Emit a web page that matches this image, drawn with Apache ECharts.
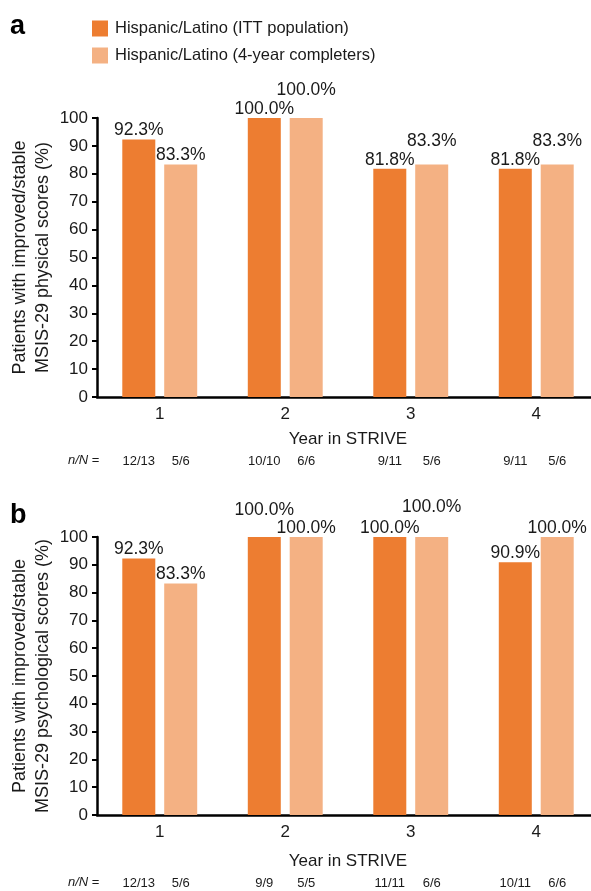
<!DOCTYPE html>
<html>
<head>
<meta charset="utf-8">
<script src="https://cdn.jsdelivr.net/npm/echarts@6/dist/echarts.min.js"></script>
<style>
html,body{margin:0;padding:0;background:#fff;}
#chart{width:591px;height:891px;}
</style>
</head>
<body>
<div id="chart"></div>
<script>
// ---- data ----
const years = ['1', '2', '3', '4'];
const seriesNames = ['Hispanic/Latino (ITT population)', 'Hispanic/Latino (4-year completers)'];
const physItt = [92.3, 100.0, 81.8, 81.8];
const physComp = [83.3, 100.0, 83.3, 83.3];
const psychItt = [92.3, 100.0, 100.0, 90.9];
const psychComp = [83.3, 100.0, 100.0, 100.0];
const physIttN = ['12/13', '10/10', '9/11', '9/11'];
const physCompN = ['5/6', '6/6', '5/6', '5/6'];
const psychIttN = ['12/13', '9/9', '11/11', '10/11'];
const psychCompN = ['5/6', '5/5', '6/6', '6/6'];
const yTicks = { min: 0, max: 100, interval: 10 };

// ---- style / layout ----
const FONT = 'Liberation Sans, Arial, sans-serif';
const C_ITT = '#ED7D31';
const C_COMP = '#F4B183';
const TXT = '#1a1a1a';
const BAR_W = 33, BAR_GAP = '27%';
// vertical lifts of value labels to avoid overlap (layout only)
const liftPhysItt = [0, 0, 0, 0];
const liftPhysComp = [0, -19, -14, -14];
const liftPsychItt = [0, -18, 0, 0];
const liftPsychComp = [0, 0, -21, 0];

function barData(vals, lifts) {
  return vals.map((v, i) => ({ value: v, label: { offset: [0, lifts[i]] } }));
}

function barSeries(name, idx, vals, lifts, color) {
  return {
    type: 'bar', name: name, xAxisIndex: idx, yAxisIndex: idx,
    data: barData(vals, lifts),
    barWidth: BAR_W, barGap: BAR_GAP,
    itemStyle: { color: color },
    label: {
      show: true, position: 'top', distance: 0,
      formatter: p => p.value.toFixed(1) + '%',
      fontFamily: FONT, fontSize: 17.5, color: TXT
    },
    emphasis: { disabled: true }
  };
}

function nSeries(idx, ittN, compN, dy) {
  return {
    type: 'custom', xAxisIndex: idx, yAxisIndex: idx, silent: true,
    data: years.map((y, i) => [i, 0]),
    renderItem: function (params, api) {
      const i = api.value(0);
      const c = api.coord([i, 0]);
      const lay = api.barLayout({ count: 2, barWidth: BAR_W, barGap: BAR_GAP });
      const labels = [ittN[i], compN[i]];
      return {
        type: 'group',
        children: labels.map((t, k) => ({
          type: 'text',
          style: {
            text: t, x: c[0] + lay[k].offsetCenter, y: c[1] + dy,
            textAlign: 'center', textVerticalAlign: 'middle',
            fontFamily: FONT, fontSize: 13, fill: TXT
          }
        }))
      };
    }
  };
}

function xAxis(idx, nameGap) {
  return {
    type: 'category', gridIndex: idx, data: years,
    name: 'Year in STRIVE', nameLocation: 'middle', nameGap: nameGap, nameMoveOverlap: false,
    nameTextStyle: { fontFamily: FONT, fontSize: 17, color: TXT },
    axisLine: { lineStyle: { color: '#000', width: 2.5 } },
    axisTick: { alignWithLabel: true, length: 5, lineStyle: { color: '#000', width: 2 } },
    axisLabel: { margin: 9, fontFamily: FONT, fontSize: 17, color: TXT },
    splitLine: { show: false }
  };
}

function yAxis(idx, name) {
  return {
    type: 'value', gridIndex: idx, min: yTicks.min, max: yTicks.max, interval: yTicks.interval,
    name: name, nameLocation: 'middle', nameGap: 42, nameMoveOverlap: false,
    nameTextStyle: { fontFamily: FONT, fontSize: 18, lineHeight: 23, color: TXT },
    axisLine: { show: true, lineStyle: { color: '#000', width: 2.5 } },
    axisTick: { show: true, length: 5, lineStyle: { color: '#000', width: 2 } },
    axisLabel: { margin: 9, fontFamily: FONT, fontSize: 17, color: TXT },
    splitLine: { show: false }
  };
}

const chart = echarts.init(document.getElementById('chart'), null, { renderer: 'canvas' });
chart.setOption({
  backgroundColor: '#fff',
  animation: false,
  legend: {
    orient: 'vertical', left: 87, top: 15, itemWidth: 16, itemHeight: 16, itemGap: 10,
    icon: 'rect', data: seriesNames, selectedMode: false,
    textStyle: { fontFamily: FONT, fontSize: 16.5, color: TXT, padding: [0, 0, 0, 2] }
  },
  grid: [
    { left: 97, top: 118, width: 502, height: 279, containLabel: false, outerBoundsMode: 'none' },
    { left: 97, top: 537, width: 502, height: 278, containLabel: false, outerBoundsMode: 'none' }
  ],
  xAxis: [xAxis(0, 34), xAxis(1, 38)],
  yAxis: [
    yAxis(0, 'Patients with improved/stable\nMSIS-29 physical scores (%)'),
    yAxis(1, 'Patients with improved/stable\nMSIS-29 psychological scores (%)')
  ],
  series: [
    barSeries(seriesNames[0], 0, physItt, liftPhysItt, C_ITT),
    barSeries(seriesNames[1], 0, physComp, liftPhysComp, C_COMP),
    barSeries(seriesNames[0], 1, psychItt, liftPsychItt, C_ITT),
    barSeries(seriesNames[1], 1, psychComp, liftPsychComp, C_COMP),
    nSeries(0, physIttN, physCompN, 64),
    nSeries(1, psychIttN, psychCompN, 68)
  ],
  graphic: [
    { type: 'text', left: 10, top: 13, style: { text: 'a', fontFamily: FONT, fontWeight: 'bold', fontSize: 27, fill: '#000' } },
    { type: 'text', left: 10, top: 502, style: { text: 'b', fontFamily: FONT, fontWeight: 'bold', fontSize: 27, fill: '#000' } },
    { type: 'text', left: 68, top: 454, style: { text: '{i|n/N} =', fontFamily: FONT, fontSize: 13, fill: TXT,
        rich: { i: { fontFamily: FONT, fontStyle: 'italic', fontSize: 13, fill: TXT } } } },
    { type: 'text', left: 68, top: 876, style: { text: '{i|n/N} =', fontFamily: FONT, fontSize: 13, fill: TXT,
        rich: { i: { fontFamily: FONT, fontStyle: 'italic', fontSize: 13, fill: TXT } } } }
  ]
});
</script>
</body>
</html>
